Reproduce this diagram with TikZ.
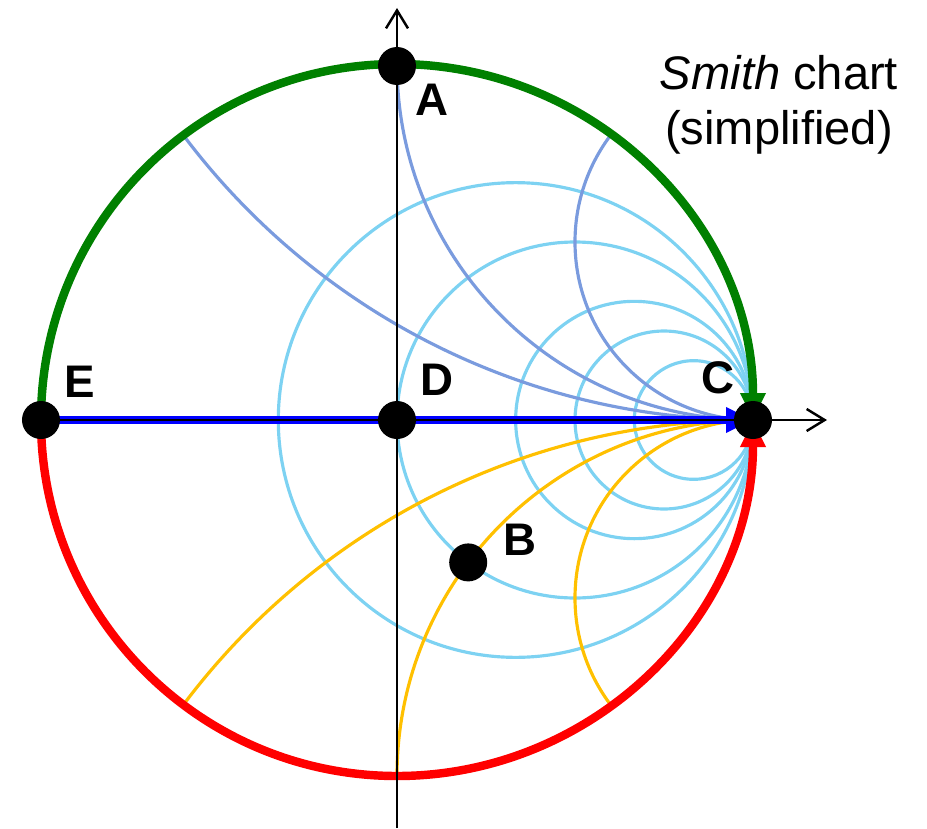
\documentclass[tikz,border=0pt]{standalone}
\usepackage{fontspec}
\setmainfont{Liberation Sans}
\usetikzlibrary{arrows.meta,backgrounds}

\definecolor{chartgreen}{RGB}{0,128,0}
\definecolor{chartred}{RGB}{255,0,0}
\definecolor{chartblue}{RGB}{0,0,255}
\definecolor{rescol}{RGB}{125,210,242}
\definecolor{upcol}{RGB}{122,155,222}
\definecolor{lowcol}{RGB}{255,192,0}

\tikzset{
  dot/.style={circle, fill=black, inner sep=0pt, minimum size=3.8mm},
  lbl/.style={font=\fontsize{13}{15}\selectfont\bfseries},
  gridline/.style={line width=0.9pt},
  outer/.style={line width=2.4pt},
  axisline/.style={line width=0.7pt, -{Straight Barb[length=1.8mm,width=2.2mm]}},
  tip/.style={-{Triangle[length=2.7mm,width=2.4mm]}},
}

\begin{document}
\begin{tikzpicture}[thick]
    \useasboundingbox (-3.97,-4.08) rectangle (5.30,4.20);

    % Points
    \node[dot] (D) at (0,0) {};
    \node[dot] (A) at (0,3.54) {};
    \node[dot] (C) at (3.56,0) {};
    \node[dot] (E) at (-3.56,0) {};
    \node[dot] (B) at (0.712,-1.424) {};

    % Labels
    \node[lbl] (labA) at (0.35,3.20) {A};
    \node[lbl] (labB) at (1.23,-1.20) {B};
    \node[lbl] (labC) at (3.21,0.42) {C};
    \node[lbl] (labD) at (0.40,0.40) {D};
    \node[lbl] (labE) at (-3.17,0.38) {E};
    \node[font=\fontsize{13.4}{15.6}\selectfont, align=center] (title) at (3.82,3.15)
        {\textit{Smith} chart\\(simplified)};

    \begin{scope}[on background layer]
        % Resistance and reactance circles
        \begin{scope}[scale=3.56]
            \clip (0,0) circle (1);
            \foreach \r in {0.5,1,2,3,5}
                \draw[gridline, rescol] ({\r/(1+\r)},0) circle ({1/(1+\r)});
            \foreach \x in {0.5,1,2} {
                \draw[gridline, upcol] (1,{1/\x}) circle ({1/\x});
                \draw[gridline, lowcol] (1,{-1/\x}) circle ({1/\x});
            }
        \end{scope}

        % Outer circle
        \draw[outer, chartgreen, tip] (E.center) arc[start angle=180, end angle=0, radius=3.56];
        \draw[outer, chartred, tip] (E.center) arc[start angle=180, end angle=360, radius=3.56];
        \draw[outer, chartblue, tip] (E.center) -- (C.center);

        % Axes
        \draw[axisline] (E.center) -- (4.30,0);
        \draw[axisline] (0,-4.08) -- (0,4.12);
    \end{scope}
\end{tikzpicture}
\end{document}
